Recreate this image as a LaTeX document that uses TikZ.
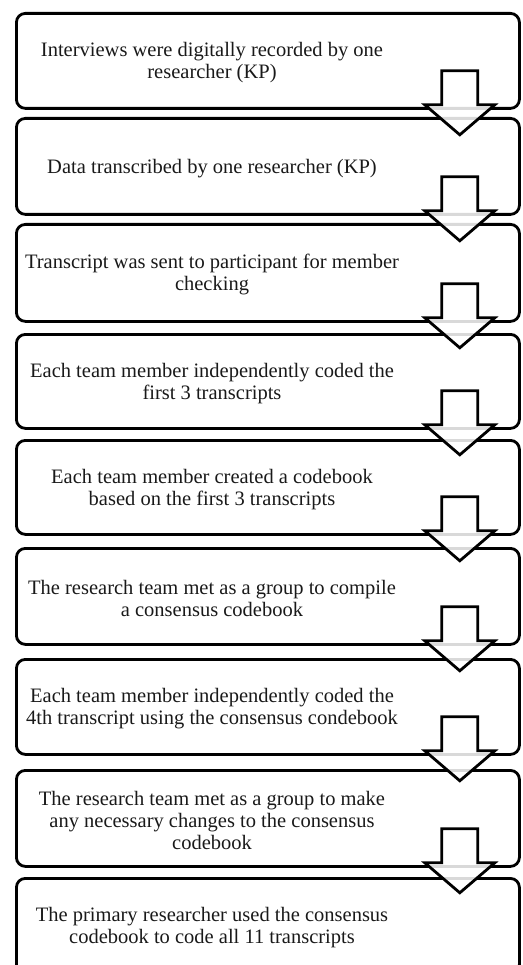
\documentclass[tikz,border=0pt]{standalone}
\usepackage{fontspec}
\setmainfont{Liberation Serif}
\begin{document}
\begin{tikzpicture}[x=1pt,y=-1pt,
  stepbox/.style={draw=black, line width=2.8pt, rounded corners=9pt, minimum width=503pt, anchor=north west, inner sep=0pt},
  steptext/.style={align=center, font=\fontsize{20.5}{22}\selectfont, inner sep=0pt, text=black!90, yshift=-2pt},
  blockarrow/.style={draw=black, line width=2.8pt, fill=white, fill opacity=0.85, line join=miter},
  downarrow/.pic={\draw[blockarrow] (-18,-39) -- (18,-39) -- (18,-5) -- (35,-5) -- (0,25) -- (-35,-5) -- (-18,-5) -- cycle;}]
\useasboundingbox (0,0) rectangle (522,965);
\coordinate (tx) at (212,0);
% boxes
\node[stepbox, minimum height=95pt] (b1) at (15,12) {};
\node[stepbox, minimum height=96pt] (b2) at (15,117) {};
\node[stepbox, minimum height=97pt] (b3) at (15,223) {};
\node[stepbox, minimum height=94pt] (b4) at (15,333) {};
\node[stepbox, minimum height=94pt] (b5) at (15,439) {};
\node[stepbox, minimum height=96pt] (b6) at (15,547) {};
\node[stepbox, minimum height=95pt] (b7) at (15,658) {};
\node[stepbox, minimum height=96pt] (b8) at (15,769) {};
\node[stepbox, minimum height=95pt] (b9) at (15,877) {};
% arrows
\foreach \b in {b1,b2,b3,b4,b5,b6,b7,b8}{
  \pic at ([xshift=-61pt]\b.south east) {downarrow};
}
% texts
\node[steptext] (t1) at (tx |- b1.center) {Interviews were digitally recorded by one\\researcher (KP)};
\node[steptext] (t2) at (tx |- b2.center) {Data transcribed by one researcher (KP)};
\node[steptext] (t3) at (tx |- b3.center) {Transcript was sent to participant for member\\checking};
\node[steptext] (t4) at (tx |- b4.center) {Each team member independently coded the\\first 3 transcripts};
\node[steptext] (t5) at (tx |- b5.center) {Each team member created a codebook\\based on the first 3 transcripts};
\node[steptext] (t6) at (tx |- b6.center) {The research team met as a group to compile\\a consensus codebook};
\node[steptext] (t7) at (tx |- b7.center) {Each team member independently coded the\\4th transcript using the consensus condebook};
\node[steptext] (t8) at (tx |- b8.center) {The research team met as a group to make\\any necessary changes to the consensus\\codebook};
\node[steptext] (t9) at (tx |- b9.center) {The primary researcher used the consensus\\codebook to code all 11 transcripts};
\end{tikzpicture}
\end{document}
